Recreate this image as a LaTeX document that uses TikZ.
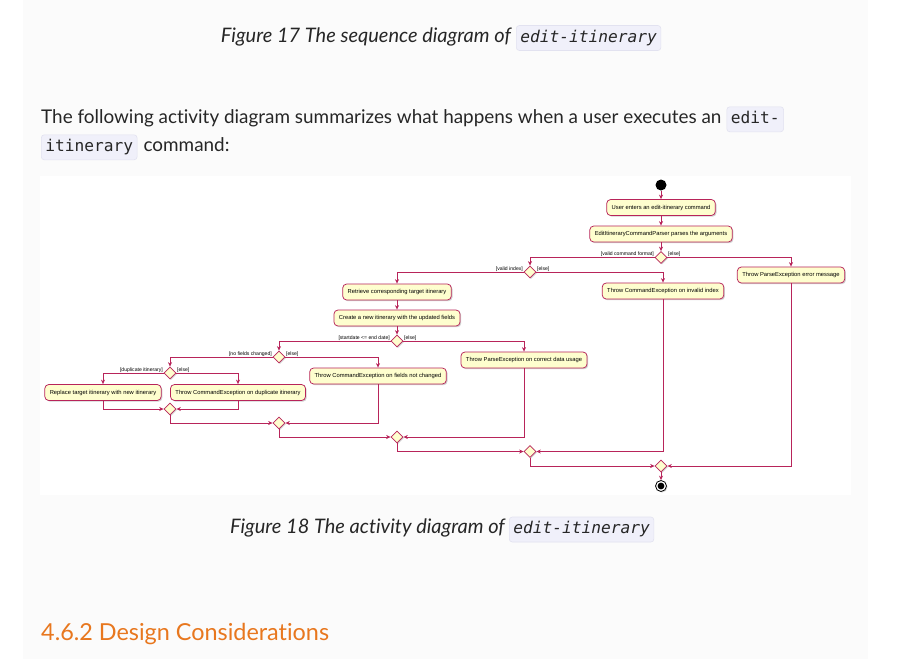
\documentclass[tikz,border=0pt]{standalone}
\usepackage{fontspec}
\setmainfont{Lato}[Ligatures=NoCommon]
\setmonofont{DejaVu Sans Mono}
\newfontfamily\umlfont{Liberation Sans}
\usepackage{xcolor}
\usepackage{tikz}
\usetikzlibrary{arrows.meta}
\usetikzlibrary{shapes.geometric}
\usetikzlibrary{shadows}
\definecolor{linecolor}{HTML}{B8245A}
\definecolor{boxfill}{HTML}{FEFECE}
\definecolor{codefill}{HTML}{F0F0FA}
\definecolor{codeline}{HTML}{E2E2F0}
\definecolor{headcolor}{HTML}{E8771E}
\definecolor{colfill}{HTML}{FBFBFB}

\begin{document}
\begin{tikzpicture}[x=1pt,y=-1pt,
  act/.style={rectangle, rounded corners=4pt, draw=linecolor, fill=boxfill, line width=0.75pt,
    font=\umlfont\fontsize{5.8}{6.5}\selectfont, inner xsep=5pt, inner ysep=0pt, minimum height=16pt,
    drop shadow={shadow xshift=1.2pt, shadow yshift=-1.2pt, fill=black!40, opacity=0.45}},
  choice/.style={diamond, draw=linecolor, fill=boxfill, line width=0.75pt, inner sep=0pt,
    minimum width=12pt, minimum height=12pt,
    drop shadow={shadow xshift=1pt, shadow yshift=-1pt, fill=black!40, opacity=0.45}},
  guard/.style={font=\umlfont\fontsize{5.1}{5.5}\selectfont, inner sep=0.6pt},
  flow/.style={draw=linecolor, line width=0.75pt, -{Stealth[length=4.5pt,width=4pt]}},
  startnode/.style={circle, fill=black, minimum size=11pt, inner sep=0pt},
  stopnode/.style={circle, draw=black, fill=white, line width=0.8pt, minimum size=11pt, inner sep=0pt,
    drop shadow={shadow xshift=1pt, shadow yshift=-1pt, fill=black!40, opacity=0.45},
    path picture={\fill[black] (path picture bounding box.center) circle (3.4pt);}},
  body/.style={font=\fontsize{18.9}{22}\selectfont, inner sep=0pt, text=black!85},
  caption/.style={font=\itshape\fontsize{20}{23}\selectfont, inner sep=0pt, text=black!85},
  code/.style={font=\ttfamily\fontsize{16.2}{20}\selectfont, fill=codefill, draw=codeline, line width=0.6pt,
    rounded corners=3pt, inner xsep=4pt, inner ysep=4.5pt, text height=12pt, text depth=4pt, text=black!85},
  heading/.style={font=\fontsize{23.4}{28}\selectfont, inner sep=0pt, text=headcolor}]
\useasboundingbox (0,0) rectangle (909,659);
\fill[white] (0,0) rectangle (909,659);
\fill[colfill] (23,0) rectangle (868,659);
\fill[white] (40,176) rectangle (851,495);

% page text
\node[caption, anchor=base east] (cap17) at (511,42) {Figure 17 The sequence diagram of};
\node[code, anchor=base west, xshift=5pt] (cap17code) at (cap17.base east) {\itshape edit-itinerary};
\node[body, anchor=base west] (para1) at (41,123.3)
  {The following activity diagram summarizes what happens when a user executes an};
\node[code, anchor=base west, xshift=5pt] (para1code) at (para1.base east) {edit-};
\node[code, anchor=base west] (para2code) at (41,151.3) {itinerary};
\node[body, anchor=base west, xshift=6pt] (para2) at (para2code.base east) {command:};
\node[caption, anchor=base east] (cap18) at (505,533.5) {Figure 18 The activity diagram of};
\node[code, anchor=base west, xshift=4pt] (cap18code) at (cap18.base east) {\itshape edit-itinerary};
\node[heading, anchor=base west] (design) at (41,640) {4.6.2 Design Considerations};

% activity diagram
\node[startnode] (start) at (661,185) {};
\node[act] (enter) at (661,207.5) {User enters an edit-itinerary command};
\node[act] (parse) at (661,234) {EditItineraryCommandParser parses the arguments};
\node[choice] (format) at (661,257.5) {};
\node[act] (errmsg) at (791,275) {Throw ParseException error message};
\node[choice] (index) at (530,272) {};
\node[act] (badindex) at (663,291) {Throw CommandException on invalid index};
\node[act] (retrieve) at (397,292) {Retrieve corresponding target itinerary};
\node[act] (create) at (397,318) {Create a new itinerary with the updated fields};
\node[choice] (dates) at (397,341) {};
\node[act] (baddates) at (524,360) {Throw ParseException on correct data usage};
\node[choice] (fields) at (279,357) {};
\node[act] (nochange) at (378,376) {Throw CommandException on fields not changed};
\node[choice] (dupl) at (170,373) {};
\node[act] (replace) at (103,392.5) {Replace target itinerary with new itinerary};
\node[act] (dupexc) at (238,392.5) {Throw CommandException on duplicate itinerary};
\node[choice] (merge1) at (170,409) {};
\node[choice] (merge2) at (279,423) {};
\node[choice] (merge3) at (397,437) {};
\node[choice] (merge4) at (530,451.5) {};
\node[choice] (merge5) at (661,466) {};
\node[stopnode] (stop) at (661,486) {};

\node[guard, anchor=south east] (g1) at (format.west) {[valid command format]};
\node[guard, anchor=south west] (g2) at (format.east) {[else]};
\node[guard, anchor=south east] (g3) at (index.west) {[valid index]};
\node[guard, anchor=south west] (g4) at (index.east) {[else]};
\node[guard, anchor=south east] (g5) at (dates.west) {[startdate <= end date]};
\node[guard, anchor=south west] (g6) at (dates.east) {[else]};
\node[guard, anchor=south east] (g7) at (fields.west) {[no fields changed]};
\node[guard, anchor=south west] (g8) at (fields.east) {[else]};
\node[guard, anchor=south east] (g9) at (dupl.west) {[duplicate itinerary]};
\node[guard, anchor=south west] (g10) at (dupl.east) {[else]};

\draw[flow] (start) -- (enter);
\draw[flow] (enter) -- (parse);
\draw[flow] (parse) -- (format);
\draw[flow] (format.west) -| (index.north);
\draw[flow] (format.east) -| (errmsg.north);
\draw[flow] (index.west) -| (retrieve.north);
\draw[flow] (index.east) -| (badindex.north);
\draw[flow] (retrieve) -- (create);
\draw[flow] (create) -- (dates);
\draw[flow] (dates.west) -| (fields.north);
\draw[flow] (dates.east) -| (baddates.north);
\draw[flow] (fields.west) -| (dupl.north);
\draw[flow] (fields.east) -| (nochange.north);
\draw[flow] (dupl.west) -| (replace.north);
\draw[flow] (dupl.east) -| (dupexc.north);
\foreach \a/\b/\m in {replace/dupexc/merge1, merge1/nochange/merge2, merge2/baddates/merge3,
                      merge3/badindex/merge4, merge4/errmsg/merge5}
  {\draw[flow] (\a.south) |- (\m.west);
   \draw[flow] (\b.south) |- (\m.east);}
\draw[flow] (merge5) -- (stop);
\end{tikzpicture}
\end{document}
